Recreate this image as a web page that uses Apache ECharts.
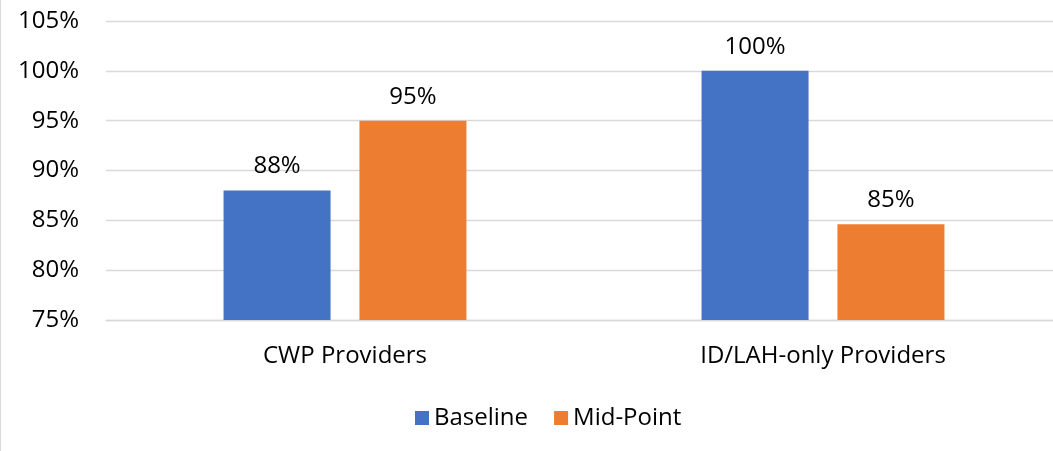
<!DOCTYPE html>
<html>
<head>
<meta charset="utf-8">
<script src="https://cdn.jsdelivr.net/npm/echarts@6/dist/echarts.min.js"></script>
<style>
html,body{margin:0;padding:0;background:#fff;overflow:hidden;width:1053px;height:451px;}
#chart{width:1062px;height:451px;}
</style>
</head>
<body>
<div id="chart"></div>
<script>
var categories = ['CWP Providers', 'ID/LAH-only Providers'];
var baseline = [88, 100];
var midPoint = [95, 84.6];
var seriesNames = ['Baseline', 'Mid-Point'];
var yMin = 75, yMax = 105, yStep = 5;

var FONT = 'Open Sans';
var FS = 24;
var chart = echarts.init(document.getElementById('chart'), null, {renderer: 'canvas'});
var labelOpt = {
  show: true,
  position: 'top',
  distance: 12,
  color: '#000',
  fontFamily: FONT,
  fontSize: FS,
  formatter: function (p) { return Math.round(p.value) + '%'; }
};
chart.setOption({
  animation: false,
  backgroundColor: '#fff',
  textStyle: {fontFamily: FONT},
  graphic: [{
    type: 'line',
    shape: {x1: 0.5, y1: 0, x2: 0.5, y2: 451},
    style: {stroke: '#d9d9d9', lineWidth: 1}
  }],
  grid: {left: 106, top: 21, right: 0, height: 299, containLabel: false},
  legend: {
    data: seriesNames,
    left: 410,
    top: 401,
    itemWidth: 14,
    itemHeight: 14,
    itemGap: 26,
    icon: 'rect',
    textStyle: {fontFamily: FONT, fontSize: FS, color: '#000'}
  },
  xAxis: {
    type: 'category',
    data: categories,
    axisLine: {lineStyle: {color: '#d9d9d9', width: 1.3}},
    axisTick: {show: false},
    axisLabel: {color: '#000', fontFamily: FONT, fontSize: FS, margin: 24}
  },
  yAxis: {
    type: 'value',
    min: yMin,
    max: yMax,
    interval: yStep,
    axisLine: {show: false},
    axisTick: {show: false},
    splitLine: {lineStyle: {color: '#d9d9d9', width: 1.3}},
    axisLabel: {color: '#000', fontFamily: FONT, fontSize: FS, margin: 27, formatter: '{value}%'}
  },
  series: [
    {name: seriesNames[0], type: 'bar', data: baseline, barWidth: 107, barGap: '27%',
     itemStyle: {color: '#4472C4'}, label: labelOpt},
    {name: seriesNames[1], type: 'bar', data: midPoint, barWidth: 107, barGap: '27%',
     itemStyle: {color: '#ED7D31'}, label: labelOpt}
  ]
});
</script>
</body>
</html>
